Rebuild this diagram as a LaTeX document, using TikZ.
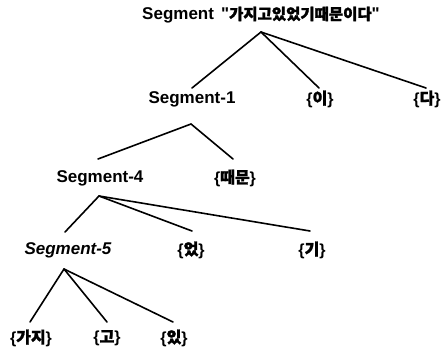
\documentclass[tikz,border=0pt]{standalone}
\usepackage{fontspec}
\setmainfont{Liberation Sans}
\newfontfamily\qf{Liberation Sans}
\newfontfamily\kr[FakeBold=1.5]{Noto Sans CJK KR}
\tikzset{
  lab/.style={font=\fontsize{17}{20}\selectfont\bfseries, inner sep=0pt},
  kor/.style={font=\fontsize{16}{20}\selectfont\bfseries, inner sep=0pt},
  edge/.style={line width=1.6pt, line cap=round}
}
\begin{document}
\begin{tikzpicture}[x=1pt,y=1pt]
\useasboundingbox (0,0) rectangle (443,-353);
% nodes
\node[lab] (root) at (261,-15) {Segment\hspace{7pt}{\qf"}{\kr\fontsize{15.5}{18}\selectfont 가지고있었기때문이다}{\qf"}};
\node[lab] (s1) at (192,-99) {Segment-1};
\node[kor] (i) at (320,-99) {\{{\kr 이}\}};
\node[kor] (da) at (427,-99) {\{{\kr 다}\}};
\node[lab] (s4) at (100,-178) {Segment-4};
\node[kor] (tm) at (235,-178) {\{{\kr 때문}\}};
\node[lab] (s5) at (68,-250) {\itshape Segment-5};
\node[kor] (eot) at (191,-250) {\{{\kr 었}\}};
\node[kor] (gi) at (312,-250) {\{{\kr 기}\}};
\node[kor] (gaji) at (31,-338) {\{{\kr 가지}\}};
\node[kor] (go) at (107,-338) {\{{\kr 고}\}};
\node[kor] (iss) at (174,-338) {\{{\kr 있}\}};
% edges
\draw[edge] ([yshift=-17pt]root.center) -- ([yshift=11pt]s1.center);
\draw[edge] ([yshift=-17pt]root.center) -- ([xshift=-1pt,yshift=11pt]i.center);
\draw[edge] ([yshift=-17pt]root.center) -- ([xshift=-1pt,yshift=11pt]da.center);
\draw[edge] ([xshift=-1pt,yshift=-25pt]s1.center) -- ([xshift=-2pt,yshift=19pt]s4.center);
\draw[edge] ([xshift=-1pt,yshift=-25pt]s1.center) -- ([xshift=-2pt,yshift=19pt]tm.center);
\draw[edge] ([xshift=-1pt,yshift=-18pt]s4.center) -- ([xshift=-3pt,yshift=18pt]s5.center);
\draw[edge] ([xshift=-1pt,yshift=-18pt]s4.center) -- ([xshift=1pt,yshift=19pt]eot.center);
\draw[edge] ([xshift=-1pt,yshift=-18pt]s4.center) -- ([xshift=-2pt,yshift=19pt]gi.center);
\draw[edge] ([xshift=-4pt,yshift=-19pt]s5.center) -- ([xshift=-1pt,yshift=16pt]gaji.center);
\draw[edge] ([xshift=-4pt,yshift=-19pt]s5.center) -- ([yshift=16pt]go.center);
\draw[edge] ([xshift=-4pt,yshift=-19pt]s5.center) -- ([xshift=-1pt,yshift=16pt]iss.center);
\end{tikzpicture}
\end{document}
